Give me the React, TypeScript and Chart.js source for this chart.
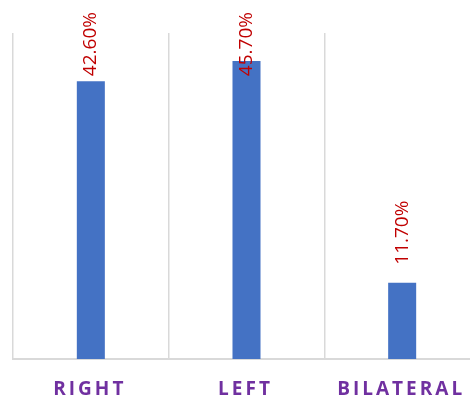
import React, { useEffect, useRef } from "react";
import { Chart, registerables } from "chart.js";

Chart.register(...registerables);

const categories: string[] = ["RIGHT", "LEFT", "BILATERAL"];
const values: number[] = [42.6, 45.7, 11.7];
const yMax = 50;

const valueLabelPlugin = {
  id: "valueLabels",
  afterDatasetsDraw(chart: any) {
    const ctx = chart.ctx;
    const meta = chart.getDatasetMeta(0);
    ctx.save();
    ctx.font = "19px 'Open Sans'";
    ctx.fillStyle = "#C00000";
    ctx.textAlign = "left";
    ctx.textBaseline = "middle";
    meta.data.forEach((bar: any, i: number) => {
      const text = values[i].toFixed(2) + "%";
      const w = ctx.measureText(text).width;
      const start = Math.max(bar.y - 18, 12 + w);
      ctx.save();
      ctx.translate(bar.x, start);
      ctx.rotate(-Math.PI / 2);
      ctx.fillText(text, 0, 0);
      ctx.restore();
    });
    ctx.restore();
  },
};

const categoryLabelPlugin = {
  id: "categoryLabels",
  afterDraw(chart: any) {
    const ctx = chart.ctx;
    const xScale = chart.scales.x;
    ctx.save();
    ctx.font = "bold 19px 'Open Sans'";
    ctx.fillStyle = "#7030A0";
    ctx.textAlign = "left";
    ctx.textBaseline = "alphabetic";
    (ctx as any).letterSpacing = "3px";
    categories.forEach((c, i) => {
      const x = xScale.getPixelForValue(i);
      const w = ctx.measureText(c).width;
      ctx.fillText(c, x - w / 2 - 1, chart.chartArea.bottom + 36);
    });
    ctx.restore();
  },
};

export default function App() {
  const ref = useRef<HTMLCanvasElement | null>(null);
  useEffect(() => {
    document.body.style.margin = "0";
    document.body.style.overflow = "hidden";
    const canvas = ref.current!;
    const chart = new Chart(canvas, {
      type: "bar",
      data: {
        labels: categories,
        datasets: [
          {
            data: values,
            backgroundColor: "#4472C4",
            categoryPercentage: 1,
            barPercentage: 0.18,
          },
        ],
      },
      options: {
        animation: false,
        responsive: false,
        layout: { padding: { left: 13, right: 10, top: 33, bottom: 37 } },
        plugins: { legend: { display: false }, tooltip: { enabled: false } },
        scales: {
          x: {
            ticks: { display: false },
            grid: { display: true, color: "#D9D9D9", lineWidth: 1.5, drawTicks: false, offset: true },
            border: { display: true, color: "#D9D9D9", width: 2 },
          },
          y: {
            display: false,
            min: 0,
            max: yMax,
          },
        },
      },
      plugins: [valueLabelPlugin, categoryLabelPlugin],
    });
    return () => chart.destroy();
  }, []);
  return (
    <div style={{ width: 470, height: 396, overflow: "hidden" }}>
      <canvas ref={ref} width={490} height={396} style={{ display: "block" }} />
    </div>
  );
}
